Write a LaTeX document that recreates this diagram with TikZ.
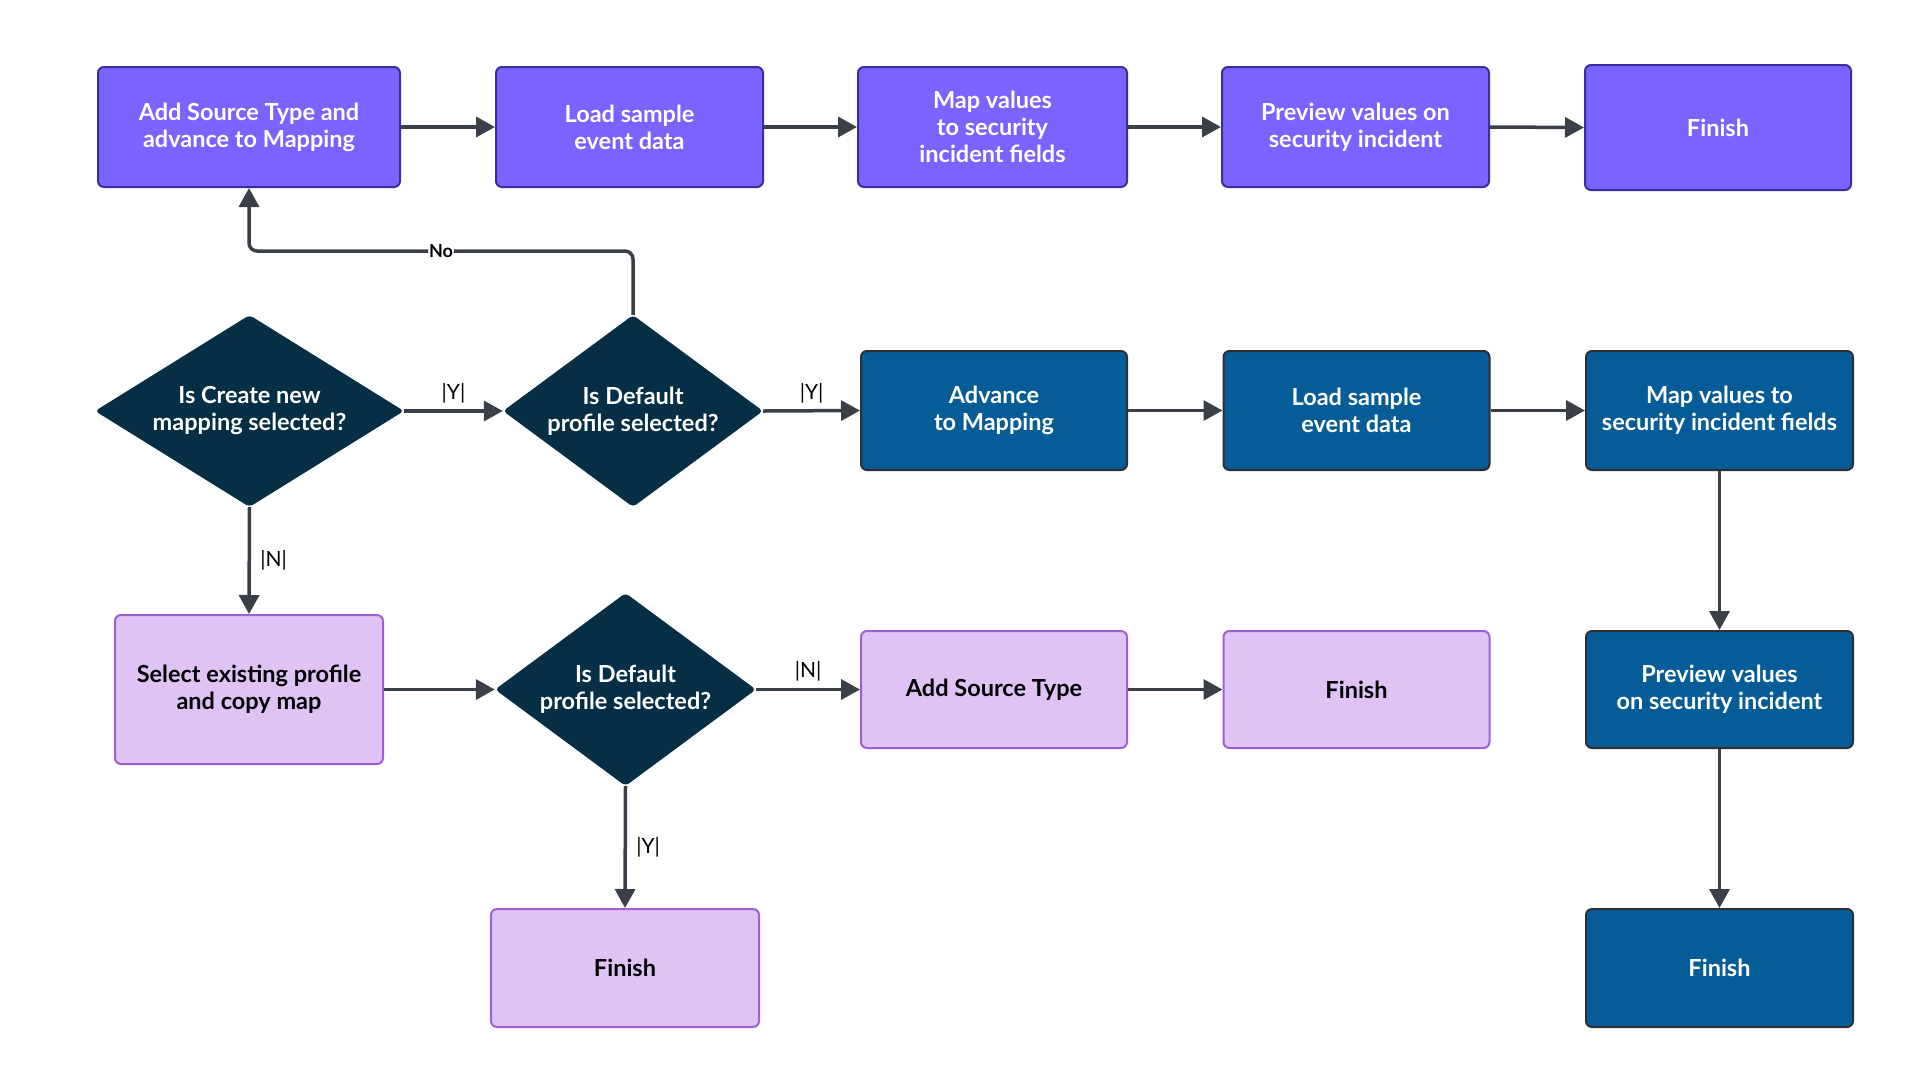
\documentclass[tikz,border=0pt]{standalone}
\usepackage{fontspec}
\setmainfont{Lato}
\usetikzlibrary{shapes.geometric,arrows.meta}
\definecolor{topP}{HTML}{7A63FF}
\definecolor{topPb}{HTML}{3B2E9E}
\definecolor{midB}{HTML}{065C97}
\definecolor{midBb}{HTML}{2E2E33}
\definecolor{dia}{HTML}{062E45}
\definecolor{lav}{HTML}{DFC3F5}
\definecolor{lavb}{HTML}{A15FD6}
\definecolor{connc}{HTML}{3B4048}
\begin{document}
\begin{tikzpicture}[x=1pt,y=-1pt,
 box/.style={rectangle, rounded corners=6pt, line width=2pt, minimum width=266pt, minimum height=119pt, align=center, font=\fontsize{23.5}{27}\selectfont\bfseries, inner sep=0pt},
 topbox/.style={box, fill=topP, draw=topPb, text=white},
 midbox/.style={box, fill=midB, draw=midBb, text=white},
 lavbox/.style={box, fill=lav, draw=lavb, text=black},
 dec/.style={diamond, fill=dia, rounded corners=4pt, text=white, align=center, font=\fontsize{23.5}{27}\selectfont\bfseries, inner sep=0pt},
 conn/.style={draw=connc, line width=3.5pt, -{Triangle[length=19pt,width=20pt]}},
 lbl/.style={font=\fontsize{21}{22}\selectfont, text=black}
]
\useasboundingbox[fill=white] (0,0) rectangle (1920,1080);

% top row
\node[topbox, minimum width=302pt, minimum height=120pt] (b1) at (249,127) {Add Source Type and\\advance to Mapping};
\node[topbox, minimum width=267pt, minimum height=120pt] (b2) at (629.5,127) {Load sample\\event data};
\node[topbox, minimum width=269pt, minimum height=120pt] (b3) at (992.5,127) {Map values\\to security\\incident fields};
\node[topbox, minimum width=267pt, minimum height=120pt] (b4) at (1355.5,127) {Preview values on\\security incident};
\node[topbox, minimum width=266pt, minimum height=125pt] (b5) at (1718,127.5) {Finish};

% middle row
\node[dec, minimum width=309pt, minimum height=192pt, aspect=1.6] (d1) at (249.5,411) {Is Create new\\mapping selected?};
\node[dec, minimum width=260pt, minimum height=192pt, aspect=1.35] (d2) at (633,411) {Is Default\\profile selected?};
\node[midbox] (m1) at (994,410.5) {Advance\\to Mapping};
\node[midbox] (m2) at (1356.5,410.5) {Load sample\\event data};
\node[midbox, minimum width=267pt] (m3) at (1719.5,410.5) {Map values to\\security incident fields};

% bottom row
\node[lavbox, minimum width=268pt, minimum height=149pt] (s1) at (249,689.5) {Select existing profile\\and copy map};
\node[dec, minimum width=261pt, minimum height=193pt, aspect=1.35] (d3) at (625.5,689.5) {Is Default\\profile selected?};
\node[lavbox, minimum height=117pt] (l1) at (994,689.5) {Add Source Type};
\node[lavbox, minimum height=117pt] (l2) at (1356.5,689.5) {Finish};
\node[midbox, minimum width=267pt, minimum height=117pt] (p4) at (1719.5,689.5) {Preview values\\on security incident};

% last row
\node[lavbox, minimum width=268pt, minimum height=118pt] (f1) at (625,968) {Finish};
\node[midbox, minimum width=267pt, minimum height=118pt] (f2) at (1719.5,968) {Finish};

% connectors
\draw[conn] (b1.east) -- (b2.west);
\draw[conn] (b2.east) -- (b3.west);
\draw[conn] (b3.east) -- (b4.west);
\draw[conn] (b4.east) -- (b5.west);

\draw[conn] (d1.east) -- node[lbl, above=3pt, midway] {|Y|} (d2.west);
\draw[conn] (d2.east) -- node[lbl, above=3pt, midway] {|Y|} (m1.west);
\draw[conn] (m1.east) -- (m2.west);
\draw[conn] (m2.east) -- (m3.west);
\draw[conn] (m3.south) -- (p4.north);
\draw[conn] (p4.south) -- (f2.north);

\draw[conn] (d1.south) -- node[lbl, right=6pt, midway] {|N|} (s1.north);
\draw[conn] (s1.east) -- (d3.west);
\draw[conn] (d3.east) -- node[lbl, above=3pt, midway] {|N|} (l1.west);
\draw[conn] (l1.east) -- (l2.west);
\draw[conn] (d3.south) -- node[lbl, right=6pt, midway] {|Y|} (f1.north);

\draw[conn, rounded corners=8pt] (d2.north) -- (d2.north |- 0,251) -- node[lbl, fill=white, inner sep=1pt, font=\fontsize{18}{20}\selectfont\bfseries, midway] {No} (b1.south |- 0,251) -- (b1.south);
\end{tikzpicture}
\end{document}
